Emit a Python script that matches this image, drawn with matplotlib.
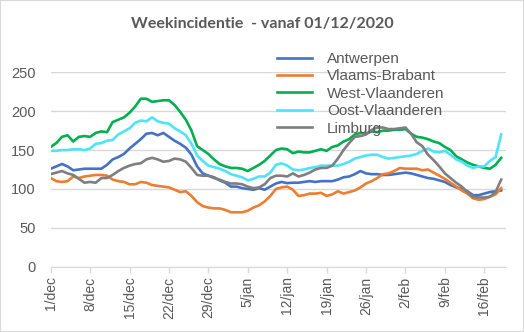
import numpy as np
import matplotlib
matplotlib.use("Agg")
import matplotlib.pyplot as plt
from matplotlib.patches import Rectangle

# weekincidentie per provincie, dagelijks vanaf 1 december 2020
antwerpen = [126, 129, 132, 129, 124, 125, 126, 126, 126, 126, 131, 138, 141, 145, 152, 158, 164, 171, 172, 169, 172,
             167, 162, 158, 153, 144, 129, 120, 117, 115, 111, 108, 103, 103, 101, 100, 99, 101, 99, 103,
             107, 109, 107.5, 108, 108, 109, 110, 109, 110, 110, 110, 112, 115, 116, 119, 123, 120, 119, 119, 118, 118,
             119, 120, 121, 120, 118, 116, 114, 113, 111, 109, 105, 102, 100, 97, 92, 92, 94, 96, 97, 98]
vlaams_brabant = [114, 110, 109, 110, 116, 114, 116, 117, 118, 118, 117, 112, 110, 109, 106, 106, 109, 108, 105, 104, 103,
                  102, 99, 96, 97, 91, 83, 78, 76, 75, 75, 73, 70, 70, 70, 72, 76, 79, 84, 91,
                  100, 102, 103, 99, 91, 92, 94, 94, 95, 91, 93, 97, 94, 96, 98, 102, 107, 110, 114, 119, 120,
                  123, 127, 126, 126, 126, 124, 125, 121, 117, 113, 108, 103, 98, 94, 88, 86, 87, 90, 93, 101]
west_vlaanderen = [154, 159, 167, 169, 161, 167, 168, 167, 172, 174, 173, 186, 189, 192, 198, 206, 216, 216, 212, 213, 214,
                   214, 208, 199, 189, 175, 155, 150, 145, 138, 132, 129, 127, 127, 126, 123, 127, 131, 136, 143,
                   150, 152, 151, 146, 148, 147, 147, 149, 151, 149, 154, 156, 161, 164, 170, 172, 171, 174, 173, 175, 175,
                   176, 176, 177, 171, 167, 166, 164, 161, 159, 154, 150, 142, 138, 134, 131, 129, 127, 126, 131, 140]
oost_vlaanderen = [149, 149, 150, 150, 151, 151, 150, 152, 158, 159, 162, 163, 170, 174, 178, 185, 188, 187, 192, 187, 185,
                   184, 178, 174, 169, 158, 143, 136, 130, 128, 126, 123, 119, 117, 115, 111, 113, 116, 116, 121,
                   131, 133, 130, 125, 124, 125, 127, 128, 130, 130, 130, 130, 132, 135, 139, 141, 143, 144, 144, 141, 139,
                   140, 141, 142, 143, 145, 149, 152, 148, 147, 149, 144, 138, 135, 130, 127, 129, 129, 136, 141, 170]
limburg = [119, 121, 123, 120, 118, 113, 108, 109, 108, 114, 114, 118, 123, 127, 130, 132, 133, 138, 140, 138, 135,
           136, 139, 138, 135, 127, 118, 117, 117, 114, 112, 109, 107, 107, 106, 103, 101, 102, 106, 114,
           117, 117, 116, 120, 116, 118, 121, 125, 127, 127, 130, 139, 150, 159, 167, 168, 170, 176, 179, 179, 177,
           177, 178, 179, 171, 160, 155, 144, 137, 129, 120, 114, 108, 103, 96, 90, 89, 89, 90, 96, 112]

tick_labels = ["1/dec", "8/dec", "15/dec", "22/dec", "29/dec", "5/jan", "12/jan",
               "19/jan", "26/jan", "2/feb", "9/feb", "16/feb"]

reeksen = [("Antwerpen", antwerpen, "#4472C4"),
           ("Vlaams-Brabant", vlaams_brabant, "#ED7D31"),
           ("West-Vlaanderen", west_vlaanderen, "#00B050"),
           ("Oost-Vlaanderen", oost_vlaanderen, "#4DE4F7"),
           ("Limburg", limburg, "#7F7F7F")]

tekst = "#595959"
plt.rcParams["font.family"] = ["Liberation Sans", "DejaVu Sans"]

fig = plt.figure(figsize=(5.24, 3.32), dpi=100)
ax = fig.add_axes([50.7 / 524, 1 - 266.7 / 332, 455 / 524, 194.4 / 332])

dagen = np.arange(len(antwerpen))
for naam, waarden, kleur in reeksen:
    ax.plot(dagen, waarden, color=kleur, lw=1.9, label=naam, zorder=3)

ax.set_xlim(0, 80.8)
ax.set_ylim(0, 250)
ax.set_yticks(np.arange(0, 251, 50))
ax.set_xticks(np.arange(len(tick_labels)) * 7)
ax.set_xticklabels(tick_labels, rotation=90, va="top", ha="center")
ax.grid(axis="y", color="#D9D9D9", lw=1)
ax.set_axisbelow(True)
for s in ("left", "right", "top"):
    ax.spines[s].set_visible(False)
ax.spines["bottom"].set_color("#D9D9D9")
ax.tick_params(axis="x", colors="#D9D9D9", length=4, width=1, pad=3, labelcolor=tekst, labelsize=10)
ax.tick_params(axis="y", length=0, pad=11, labelcolor=tekst, labelsize=10.5)

leg = fig.legend(loc="upper left", bbox_to_anchor=(271 / 524, 1 - 46 / 332), frameon=False,
                 fontsize=11, handlelength=2.3, handletextpad=0.95, labelspacing=0.22,
                 labelcolor=tekst, borderaxespad=0)
leg.set_zorder(1)

fig.text(0.5, 1 - 24 / 332, "Weekincidentie  - vanaf 01/12/2020", ha="center", va="center",
         fontsize=11.5, fontweight="bold", color=tekst, family=["Lato", "DejaVu Sans"])

fig.patches.append(Rectangle((0, 0), 1, 1, transform=fig.transFigure, fill=False,
                             edgecolor="#D9D9D9", lw=1.5))

fig.savefig("out.png", dpi=100)
